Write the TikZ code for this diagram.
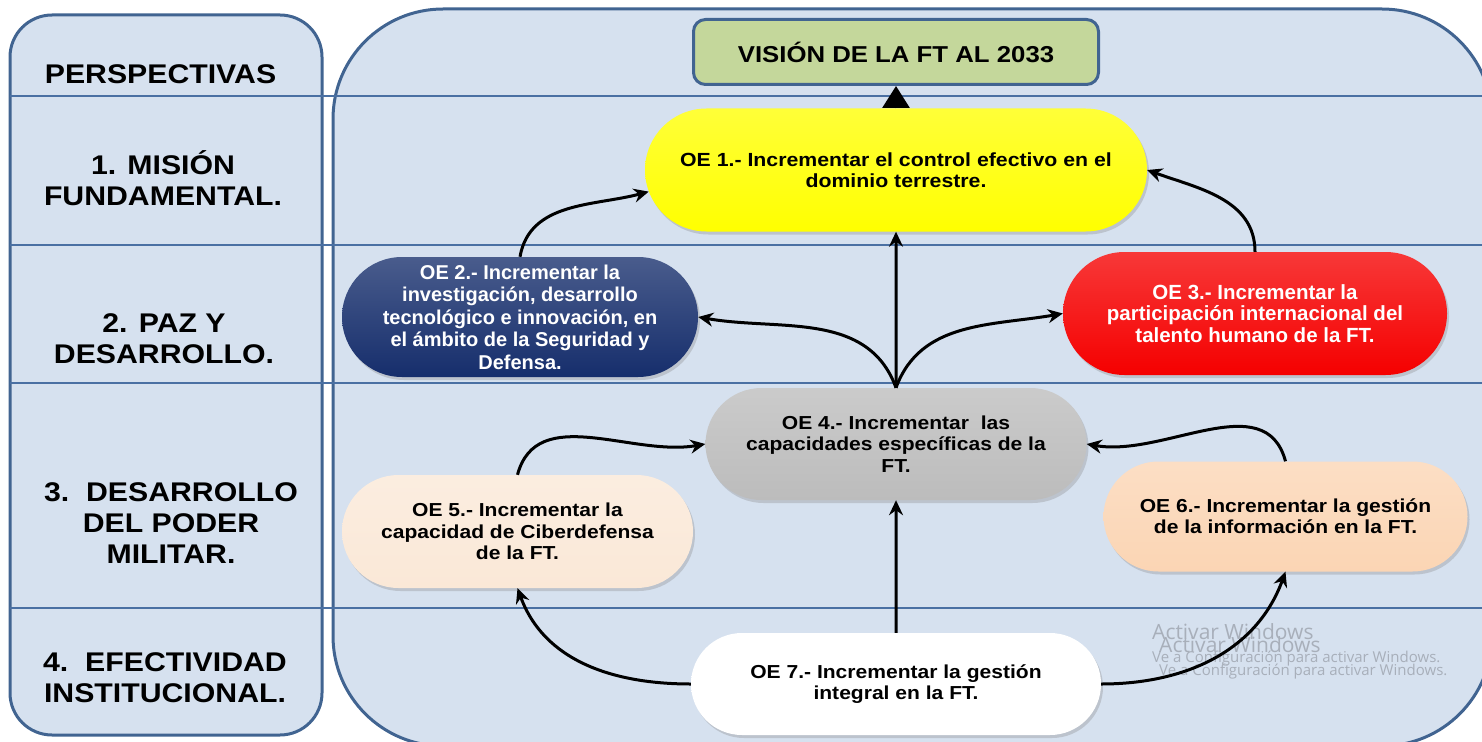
\documentclass[tikz,border=0pt]{standalone}
\usepackage{fontspec}
\setmainfont{Liberation Sans}
\newfontfamily\widesans[FakeStretch=1.12]{Liberation Sans}
\newfontfamily\winfont{Open Sans}
\usetikzlibrary{arrows.meta,positioning,shapes.misc,shadows}
\definecolor{cpanel}{RGB}{214,225,239}
\definecolor{cborder}{RGB}{65,100,145}
\definecolor{crule}{RGB}{74,112,163}
\definecolor{cvision}{RGB}{196,215,155}
\definecolor{cyellow}{RGB}{255,255,0}
\definecolor{cnavy}{RGB}{22,46,108}
\definecolor{cred}{RGB}{245,0,0}
\definecolor{cgray}{RGB}{188,188,188}
\definecolor{cbeige}{RGB}{250,232,215}
\definecolor{cpeach}{RGB}{251,213,180}
\definecolor{cwin}{RGB}{168,175,186}

\begin{document}
\begin{tikzpicture}[x=1pt,y=-1pt,>={Stealth[length=15pt,width=14pt,inset=5pt]},
  link/.style={->,line width=3pt,black},
  panel/.style={draw=cborder,line width=3pt,fill=cpanel},
  row rule/.style={draw=crule,line width=2.2pt},
  row label/.style={inner sep=0pt,align=center,font=\widesans\bfseries\fontsize{27}{31}\selectfont},
  pill/.style={rounded rectangle,inner sep=0pt,align=center,
    top color=#1!78!white,middle color=#1,bottom color=#1,
    drop shadow={opacity=0.3,shadow xshift=2pt,shadow yshift=-3pt},
    font=\widesans\bfseries\fontsize{18.8}{21.5}\selectfont},
  vision box/.style={rectangle,rounded corners=12pt,draw=cborder,line width=3pt,fill=cvision,
    minimum width=405pt,minimum height=65pt,font=\widesans\bfseries\fontsize{23}{23}\selectfont},
  win big/.style={inner sep=0pt,text=cwin,font=\winfont\fontsize{21}{21}\selectfont},
  win small/.style={inner sep=0pt,text=cwin,font=\winfont\fontsize{15}{15}\selectfont}]
  \useasboundingbox (0,0) rectangle (1482,741);

  % panels and rows
  \draw[panel,rounded corners=110pt] (333,9) rectangle (1492,746);
  \draw[panel,rounded corners=42pt] (10,15) rectangle (322,735);
  \foreach \y in {96,245,383,608}
    \draw[row rule] (10,\y) -- (1482,\y);

  \node[row label] (persp) at (160.5,74) {PERSPECTIVAS};
  \node[row label] (mision) at (163,178) {1. MISIÓN\\FUNDAMENTAL.};
  \node[row label] (paz) at (164,339) {2. PAZ Y\\DESARROLLO.};
  \node[row label] (poder) at (171,523) {3.~~DESARROLLO\\DEL PODER\\MILITAR.};
  \node[row label] (efect) at (165,678) {4.~~EFECTIVIDAD\\INSTITUCIONAL.};

  % objectives
  \node[pill=cyellow,minimum width=502pt,minimum height=123pt,
    font=\widesans\bfseries\fontsize{19}{21}\selectfont] (oe1) at (896,170)
    {OE 1.- Incrementar el control efectivo en el\\dominio terrestre.};
  \node[vision box,above of=oe1,node distance=118pt] (vision) {VISIÓN DE LA FT AL 2033};
  \node[pill=cnavy,text=white,minimum width=356pt,minimum height=120pt,
    font=\rmfamily\bfseries\fontsize{20}{22.5}\selectfont] (oe2) at (520,317)
    {OE 2.- Incrementar la\\investigación, desarrollo\\tecnológico e innovación, en\\el ámbito de la Seguridad y\\Defensa.};
  \node[pill=cred,text=white,minimum width=384pt,minimum height=123pt,
    font=\rmfamily\bfseries\fontsize{20.5}{21.5}\selectfont] (oe3) at (1255,313.5)
    {OE 3.- Incrementar la\\participación internacional del\\talento humano de la FT.};
  \node[pill=cgray,below of=oe1,node distance=274pt,minimum width=381pt,minimum height=112pt] (oe4)
    {OE 4.- Incrementar~ las\\capacidades específicas de la\\FT.};
  \node[pill=cbeige,minimum width=351pt,minimum height=113pt] (oe5) at (517.5,531.5)
    {OE 5.- Incrementar la\\capacidad de Ciberdefensa\\de la FT.};
  \node[pill=cpeach,minimum width=364pt,minimum height=110pt,
    font=\widesans\bfseries\fontsize{18.8}{21}\selectfont] (oe6) at (1285.5,516.5)
    {OE 6.- Incrementar la gestión\\de la información en la FT.};
  \node[pill=white,below of=oe4,node distance=240pt,minimum width=410pt,minimum height=102pt] (oe7)
    {OE 7.- Incrementar la gestión\\integral en la FT.};

  % watermark
  \foreach \dx/\dy [count=\i] in {0/0,7/13} {
    \node[win big,anchor=north west] (actwin\i) at (1152+\dx,623+\dy) {Activar Windows};
    \node[win small,anchor=north west] (cfgwin\i) at (1152+\dx,651+\dy) {Ve a Configuración para activar Windows.};
  }

  \path[link]
    (oe1) edge[-{Triangle[width=27pt,length=22pt]}] (vision)
    (oe2.north) edge[out=80,in=195] (oe1.185)
    (oe3.north) edge[out=90,in=-20] (oe1.east)
    (oe4) edge (oe1)
    (oe4.north) edge[out=110,in=-10] (oe2.east)
    (oe4.north) edge[out=70,in=190] (oe3.west)
    (oe5.north) edge[out=75,in=190] (oe4.west)
    (oe6.north) edge[out=105,in=-10] (oe4.east)
    (oe7) edge (oe4)
    (oe7.west) edge[out=180,in=-70] (oe5.south)
    (oe7.east) edge[out=0,in=-110] (oe6.south);
\end{tikzpicture}
\end{document}
